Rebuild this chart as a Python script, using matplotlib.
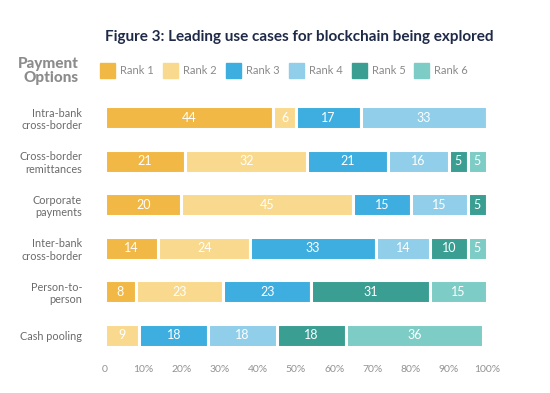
import numpy as np
import matplotlib.pyplot as plt
from matplotlib.patches import Rectangle

# ---------------------------
# Data
# ---------------------------
categories = ["Intra-bank\ncross-border", "Cross-border\nremittances", "Corporate\npayments",
              "Inter-bank\ncross-border", "Person-to-\nperson", "Cash pooling"]
ranks = ["Rank 1", "Rank 2", "Rank 3", "Rank 4", "Rank 5", "Rank 6"]
rank1 = [44, 21, 20, 14, 8, 0]
rank2 = [6, 32, 45, 24, 23, 9]
rank3 = [17, 21, 15, 33, 23, 18]
rank4 = [33, 16, 15, 14, 0, 18]
rank5 = [0, 5, 5, 10, 31, 18]
rank6 = [0, 5, 0, 5, 15, 36]
xticks = [0, 10, 20, 30, 40, 50, 60, 70, 80, 90, 100]
xticklabels = ["0", "10%", "20%", "30%", "40%", "50%", "60%", "70%", "80%", "90%", "100%"]

colors = ["#F2B846", "#F9D98D", "#3DAEDF", "#90CEEA", "#3A9E93", "#7DCCC5"]
series = [rank1, rank2, rank3, rank4, rank5, rank6]

plt.rcParams['font.family'] = ['Lato', 'DejaVu Sans']

fig = plt.figure(figsize=(5.5, 3.93), dpi=100)
ax = fig.add_axes([105 / 550, 1 - 357 / 393, (487 - 105) / 550, (357 - 96) / 393])

y = np.arange(len(categories))
left = np.zeros(len(categories))
for vals, col in zip(series, colors):
    vals = np.array(vals, dtype=float)
    ax.barh(y, vals, left=left, height=0.53, color=col, edgecolor='white', linewidth=2.2)
    for yi, (l, v) in enumerate(zip(left, vals)):
        if v > 0:
            ax.text(l + v / 2, yi, str(int(v)), ha='center', va='center',
                    color='white', fontsize=9)
    left += vals

ax.set_xlim(0, 100)
ax.set_ylim(len(categories) - 0.5, -0.5)
ax.set_yticks(y)
ax.set_yticklabels(categories, fontsize=7.8, color='#6b6b6b', linespacing=1.15)
ax.set_xticks(xticks)
ax.set_xticklabels(xticklabels, fontsize=7.5, color='#929292')
ax.tick_params(axis='both', length=0)
ax.tick_params(axis='y', pad=16.5)
ax.tick_params(axis='x', pad=6)
for s in ax.spines.values():
    s.set_visible(False)

# Title and side heading
fig.text(105 / 550, 1 - 37 / 393, "Figure 3: Leading use cases for blockchain being explored",
         fontsize=11, fontweight='bold', color='#1f2a48', va='center', ha='left')
fig.text(79 / 550, 1 - 71 / 393, "Payment\nOptions", fontsize=11, fontweight='black',
         color='#8c8c8c', ha='right', va='center', linespacing=0.95)

# Legend row
leg_x = [100, 163, 226, 289, 352, 414]
for lx, lab, col in zip(leg_x, ranks, colors):
    fig.patches.append(Rectangle((lx / 550, 1 - 78 / 393), 15 / 550, 15 / 393,
                                 transform=fig.transFigure, color=col))
    fig.text((lx + 20) / 550, 1 - 71 / 393, lab, fontsize=8, color='#8a8a8a',
             va='center', ha='left')

fig.savefig("out.png", dpi=100, facecolor='white')
